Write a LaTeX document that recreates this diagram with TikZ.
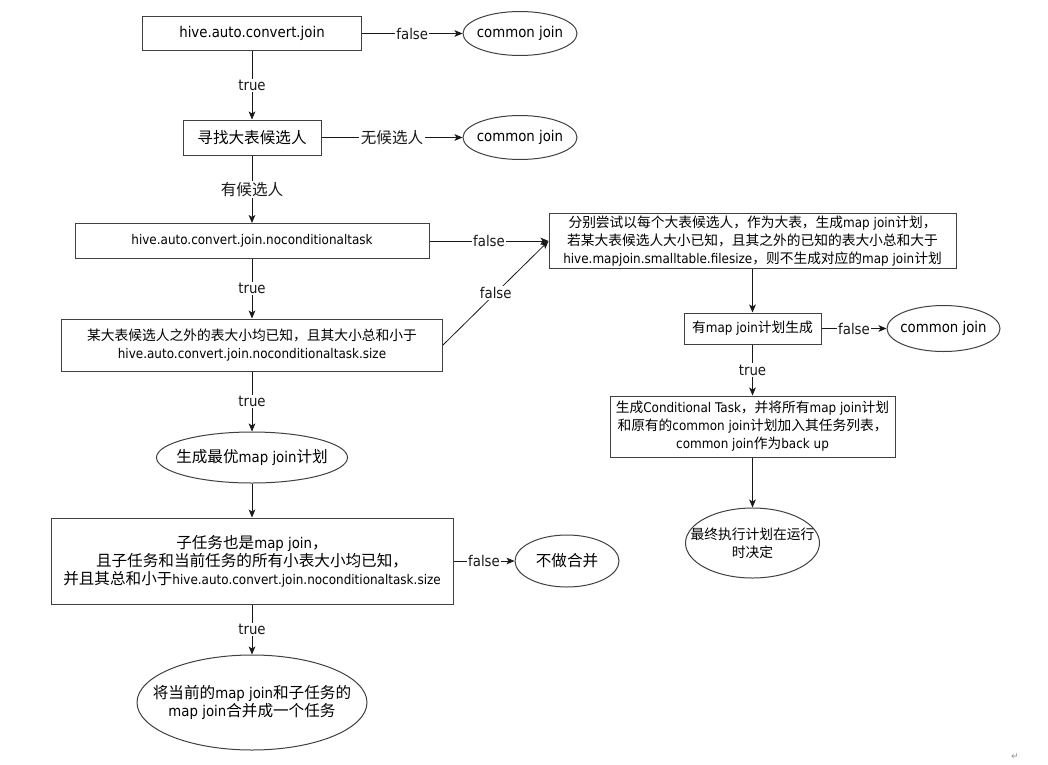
\documentclass[tikz,border=0pt]{standalone}
\usepackage{fontspec}
\setmainfont[FakeStretch=0.9]{DejaVu Sans}
\newfontfamily\zhf{Noto Sans CJK SC}
\usetikzlibrary{shapes.geometric,arrows.meta}
\newcommand\zhB[1]{{\zhf\fontsize{11.7}{13.5}\selectfont #1}}
\newcommand\zhS[1]{{\zhf\fontsize{10.3}{13.5}\selectfont #1}}
\newcommand\enB[1]{{\fontsize{11.1}{13.5}\selectfont #1}}
\newcommand\enS[1]{{\fontsize{10}{13.5}\selectfont #1}}
\tikzset{
  box/.style={draw=black!75, line width=0.75pt, inner sep=0pt, align=center, font=\fontsize{11.1}{13.5}\selectfont},
  oval/.style={ellipse, draw=black!75, line width=0.75pt, inner sep=0pt},
  txt/.style={inner sep=0pt, align=center, font=\fontsize{11.1}{13.5}\selectfont},
  arr/.style={-{Stealth[length=6pt,width=5pt,inset=1.5pt]}, line width=0.6pt, black!90},
  lab/.style={fill=white, inner sep=1pt, font=\fontsize{11.1}{12}\selectfont},
}
\begin{document}
\begin{tikzpicture}[x=0.75pt,y=-0.75pt]
\fill[white] (0,0) rectangle (1048,764);
\useasboundingbox (0,0) rectangle (1048,764);

% left column
\node[box, minimum width=164.25pt, minimum height=25.5pt] (b1) at (252,33.5) {\enB{hive.auto.convert.join}};
\node[oval, minimum width=85.5pt, minimum height=33pt] (e1) at (520,33.5) {};
\node[txt] (t1) at (e1) {\enB{common join}};

\node[box, minimum width=103.5pt, minimum height=26.25pt] (b2) at (252,137.5) {\zhB{寻找大表候选人}};
\node[oval, minimum width=85.5pt, minimum height=33pt] (e2) at (520,137.5) {};
\node[txt] (t2) at (e2) {\enB{common join}};

\node[box, minimum width=265.5pt, minimum height=26.25pt] (b3) at (252,241) {\enS{hive.auto.convert.join.noconditionaltask}};

\node[box, minimum width=285.75pt, minimum height=39pt] (b4) at (252,345) {\zhS{某大表候选人之外的表大小均已知，且其大小总和小于}\\\enS{hive.auto.convert.join.noconditionaltask.size}};

\node[oval, minimum width=143.25pt, minimum height=38.25pt] (o1) at (252,457.5) {};
\node[txt] (t3) at (o1) {\zhB{生成最优}\enB{map join}\zhB{计划}};

\node[box, minimum width=301.5pt, minimum height=64.5pt] (b5) at (252,561) {\zhB{子任务也是}\enB{map join}\zhB{，}\\\zhB{且子任务和当前任务的所有小表大小均已知，}\\\zhB{并且其总和小于}\enS{hive.auto.convert.join.noconditionaltask.size}};

\node[oval, minimum width=78pt, minimum height=39pt] (e3) at (567,561) {};
\node[txt] (t4) at (e3) {\zhB{不做合并}};

\node[oval, minimum width=172.5pt, minimum height=71.25pt] (e4) at (252,702.5) {};
\node[txt] (t5) at (e4) {\zhB{将当前的}\enB{map join}\zhB{和子任务的}\\\enB{map join}\zhB{合并成一个任务}};

% right column
\node[box, minimum width=305.25pt, minimum height=41.25pt] (r1) at (752.5,241) {\zhS{分别尝试以每个大表候选人，作为大表，生成}\enS{map join}\zhS{计划，}\\\zhS{若某大表候选人大小已知，且其之外的已知的表大小总和大于}\\\enS{hive.mapjoin.smalltable.filesize}\zhS{，则不生成对应的}\enS{map join}\zhS{计划}};

\node[box, minimum width=102.75pt, minimum height=23.25pt] (r2) at (752.5,328.5) {\zhS{有}\enS{map join}\zhS{计划生成}};
\node[oval, minimum width=84.75pt, minimum height=34.5pt] (e5) at (943.5,328.5) {};
\node[txt] (t6) at (e5) {\enB{common join}};

\node[box, minimum width=213.75pt, minimum height=45.75pt] (r3) at (752.5,426.5) {\zhS{生成}\enS{Conditional Task}\zhS{，并将所有}\enS{map join}\zhS{计划}\\\zhS{和原有的}\enS{common join}\zhS{计划加入其任务列表，}\\\enS{common join}\zhS{作为}\enS{back up}};

\node[oval, minimum width=100.5pt, minimum height=52.5pt] (e6) at (752.5,543) {};
\node[txt] (t7) at (e6) {\zhS{最终执行计划在运行}\\\zhS{时决定}};

\node[text=black!45, inner sep=0pt, font=\fontsize{7}{8}\selectfont] (mark) at (1015,757) {↵};

% connectors
\draw[arr] (b1.east) -- node[lab] {false} (e1.west);
\draw[arr] (b1.south) -- node[lab] {true} (b2.north);
\draw[arr] (b2.east) -- node[lab] {\zhB{无候选人}} (e2.west);
\draw[arr] (b2.south) -- node[lab] {\zhB{有候选人}} (b3.north);
\draw[arr] (b3.east) -- node[lab] {false} (r1.west);
\draw[arr] (b3.south) -- node[lab] {true} (b4.north);
\draw[arr] (b4.east) -- node[lab] {false} (r1.west);
\draw[arr] (b4.south) -- node[lab] {true} (o1.north);
\draw[arr] (o1.south) -- (b5.north);
\draw[arr] (b5.east) -- node[lab] {false} (e3.west);
\draw[arr] (b5.south) -- node[lab] {true} (e4.north);
\draw[arr] (r1.south) -- (r2.north);
\draw[arr] (r2.east) -- node[lab] {false} (e5.west);
\draw[arr] (r2.south) -- node[lab] {true} (r3.north);
\draw[arr] (r3.south) -- (e6.north);
\end{tikzpicture}
\end{document}
